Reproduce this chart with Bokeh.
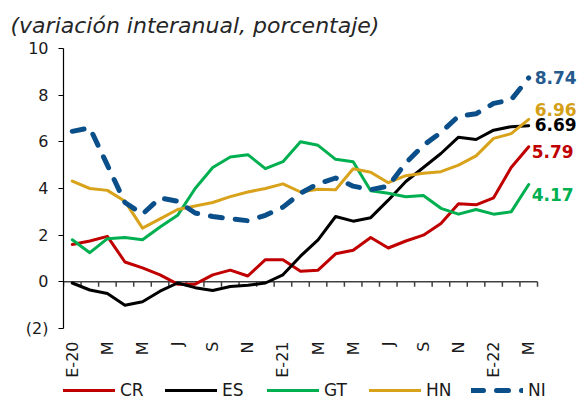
import numpy as np
from bokeh.plotting import figure
from bokeh.layouts import column
from bokeh.models import Range1d, FixedTicker, Legend, LegendItem
from bokeh.embed import file_html
from bokeh.resources import INLINE
from bokeh.core.properties import value

# ---------------- data ----------------
months = ["E-20", "F", "M", "A", "M", "J", "J", "A", "S", "O", "N", "D",
          "E-21", "F", "M", "A", "M", "J", "J", "A", "S", "O", "N", "D",
          "E-22", "F", "M"]
label_every = 2

cr = [1.60, 1.75, 1.95, 0.85, 0.60, 0.30, -0.10, -0.10, 0.30, 0.50, 0.25, 0.95,
      0.95, 0.45, 0.50, 1.20, 1.35, 1.90, 1.45, 1.75, 2.00, 2.50, 3.35, 3.30,
      3.60, 4.90, 5.79]
es = [-0.05, -0.35, -0.50, -1.00, -0.85, -0.40, -0.05, -0.25, -0.37, -0.20, -0.15, -0.05,
      0.30, 1.10, 1.80, 2.80, 2.60, 2.75, 3.50, 4.30, 4.90, 5.50, 6.20, 6.10,
      6.50, 6.65, 6.69]
gt = [1.80, 1.25, 1.85, 1.90, 1.80, 2.35, 2.85, 4.00, 4.90, 5.35, 5.45, 4.85,
      5.15, 6.00, 5.85, 5.25, 5.15, 3.90, 3.80, 3.65, 3.70, 3.15, 2.90, 3.10,
      2.90, 3.00, 4.17]
hn = [4.32, 4.00, 3.92, 3.45, 2.30, 2.70, 3.10, 3.25, 3.40, 3.65, 3.85, 4.00,
      4.20, 3.85, 3.97, 3.95, 4.85, 4.70, 4.25, 4.55, 4.65, 4.72, 5.00, 5.40,
      6.15, 6.35, 6.96]
ni = [6.45, 6.60, 5.00, 3.40, 2.90, 3.60, 3.45, 2.95, 2.80, 2.70, 2.62, 2.85,
      3.20, 3.80, 4.20, 4.45, 4.10, 3.95, 4.10, 5.10, 5.85, 6.40, 7.10, 7.20,
      7.65, 7.80, 8.74]

series_names = ["CR", "ES", "GT", "HN", "NI"]
series_values = [cr, es, gt, hn, ni]

y_ticks = [-2, 0, 2, 4, 6, 8, 10]
y_tick_labels = ["(2)", "0", "2", "4", "6", "8", "10"]

title_text = "(variación interanual, porcentaje)"

# ---------------- styles ----------------
colors = {"CR": "#C00000", "ES": "#000000", "GT": "#00B050", "HN": "#D9A21B", "NI": "#0B4F8A"}
label_colors = {"CR": "#C00000", "ES": "#000000", "GT": "#00B050", "HN": "#D4A017", "NI": "#245A8E"}
label_offsets = {"CR": (3, 5), "ES": (6, -1), "GT": (3, 10), "HN": (6, -10), "NI": (6, 0)}
FONT = "DejaVu Sans"


def line_style(name):
    if name == "NI":
        return dict(line_color=colors[name], line_width=5, line_dash="12 13",
                    line_cap="round", line_join="round")
    return dict(line_color=colors[name], line_width=3, line_cap="round", line_join="round")


W = 580
H_MAIN, H_LEG = 380, 21
BL, BR, BT = 63, 0, 47
FRAME_H = 281
BB = H_MAIN - BT - FRAME_H
axis_px = 474.0                      # width of the month axis in pixels
n = len(months)
x = list(range(n))
px_per_month = axis_px / n
x_end = -0.5 + (W - BL - BR) / px_per_month

p = figure(width=W, height=H_MAIN,
           x_range=Range1d(-0.5, x_end), y_range=Range1d(y_ticks[0], y_ticks[-1]),
           toolbar_location=None, output_backend="svg",
           min_border_left=BL, min_border_right=BR, min_border_top=BT, min_border_bottom=BB)
p.outline_line_color = None
p.xgrid.visible = False
p.ygrid.visible = False
p.background_fill_color = "white"
p.border_fill_color = "white"

# title
p.title.text = title_text
p.title.text_font = FONT
p.title.text_font_style = "italic"
p.title.text_font_size = "22px"
p.title.text_color = "#262626"
p.title.align = "left"
p.title.offset = -53
p.title.standoff = 21

# y axis
yax = p.yaxis[0]
yax.ticker = FixedTicker(ticks=y_ticks)
yax.major_label_overrides = {t: l for t, l in zip(y_ticks, y_tick_labels)}
yax.major_tick_out = 5
yax.major_tick_in = 0
yax.minor_tick_out = 0
yax.minor_tick_in = 0
yax.axis_line_color = "#000000"
yax.axis_line_width = 1.2
yax.major_tick_line_color = "#000000"
yax.major_tick_line_width = 1.2
yax.major_label_standoff = 10
yax.major_label_text_font = FONT
yax.major_label_text_font_size = "16px"
yax.major_label_text_color = "#1a1a1a"

# x axis (labels only, at bottom)
xax = p.xaxis[0]
lab_idx = [i for i in x if i % label_every == 0]
xax.ticker = FixedTicker(ticks=lab_idx)
xax.major_label_overrides = {i: months[i] for i in lab_idx}
xax.major_label_orientation = np.pi / 2
xax.major_tick_out = 0
xax.major_tick_in = 0
xax.minor_tick_out = 0
xax.minor_tick_in = 0
xax.axis_line_color = None
xax.major_label_standoff = 13
xax.major_label_text_font = FONT
xax.major_label_text_font_size = "16px"
xax.major_label_text_color = "#1a1a1a"

# zero line with month-boundary ticks
p.segment(x0=[-0.5], x1=[n - 0.5], y0=[0], y1=[0], line_color="#404040", line_width=1.5)
bounds = [i - 0.5 for i in range(n + 1)]
p.ray(x=bounds, y=[0] * len(bounds), length=5, length_units="screen",
      angle=-np.pi / 2, line_color="#404040", line_width=1.5)

# series
for name, vals in zip(series_names, series_values):
    p.line(x, vals, **line_style(name))

# end labels
for name, vals in zip(series_names, series_values):
    dx, dy = label_offsets[name]
    p.text(x=[x[-1]], y=[vals[-1]], text=[f"{vals[-1]:.2f}"],
           x_offset=dx, y_offset=dy,
           text_font=value(FONT), text_font_style="bold", text_font_size="17px",
           text_color=label_colors[name], text_baseline="middle", text_align="left")

# legend strip (separate small figure below; its series sit outside its view range)
pl = figure(width=W, height=H_LEG, x_range=Range1d(-3, -2), y_range=Range1d(-3, -2),
            x_axis_location=None, y_axis_location=None,
            toolbar_location=None, output_backend="svg",
            min_border_left=0, min_border_right=0, min_border_top=0, min_border_bottom=0)
pl.outline_line_color = None
pl.xgrid.visible = False
pl.ygrid.visible = False
leg_renderers = [pl.line(x, vals, **line_style(nm)) for nm, vals in zip(series_names, series_values)]
legend = Legend(items=[LegendItem(label=nm, renderers=[r]) for nm, r in zip(series_names, leg_renderers)],
                orientation="horizontal", location="top_left",
                glyph_width=52, glyph_height=20, label_width=35, label_standoff=5,
                spacing=10, padding=0, margin=0,
                border_line_color=None, background_fill_alpha=0,
                label_text_font=FONT, label_text_font_size="17px",
                label_text_color="#1a1a1a")
pl.add_layout(legend)

layout = column(p, pl, spacing=0)
open("out.html", "w").write(file_html(layout, INLINE))
